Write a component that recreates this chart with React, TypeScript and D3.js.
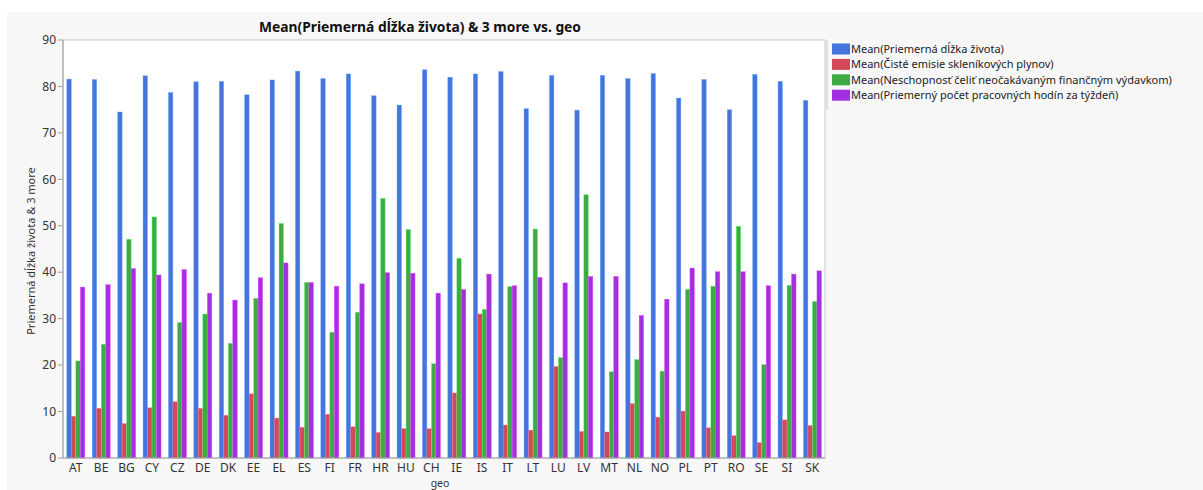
import React from "react";
import * as d3 from "d3";

// categories on the x axis
const geo = ["AT", "BE", "BG", "CY", "CZ", "DE", "DK", "EE", "EL", "ES", "FI", "FR", "HR", "HU", "CH",
  "IE", "IS", "IT", "LT", "LU", "LV", "MT", "NL", "NO", "PL", "PT", "RO", "SE", "SI", "SK"];

const seriesNames = [
  "Mean(Priemerná dĺžka života)",
  "Mean(Čisté emisie skleníkových plynov)",
  "Mean(Neschopnosť čeliť neočakávaným finančným výdavkom)",
  "Mean(Priemerný počet pracovných hodín za týždeň)",
];

const lifeExp = [81.6, 81.5, 74.5, 82.3, 78.7, 81.0, 81.1, 78.2, 81.4, 83.3, 81.7, 82.7, 78.0, 76.0, 83.6,
  82.0, 82.7, 83.2, 75.2, 82.4, 74.9, 82.4, 81.7, 82.8, 77.5, 81.5, 75.0, 82.6, 81.1, 77.0];
const emissions = [9.0, 10.7, 7.4, 10.8, 12.1, 10.7, 9.2, 13.8, 8.6, 6.6, 9.4, 6.7, 5.5, 6.3, 6.3,
  14.0, 31.0, 7.1, 6.0, 19.7, 5.7, 5.6, 11.7, 8.8, 10.1, 6.5, 4.8, 3.3, 8.2, 7.0];
const noExpenses = [20.9, 24.5, 47.1, 51.9, 29.2, 31.0, 24.7, 34.4, 50.5, 37.8, 27.1, 31.4, 55.9, 49.2, 20.3,
  43.0, 32.0, 36.9, 49.3, 21.6, 56.7, 18.6, 21.2, 18.7, 36.3, 37.0, 49.9, 20.1, 37.2, 33.7];
const workHours = [36.8, 37.3, 40.8, 39.4, 40.6, 35.5, 34.0, 38.8, 42.0, 37.8, 37.0, 37.5, 39.9, 39.8, 35.5,
  36.3, 39.6, 37.1, 38.9, 37.7, 39.1, 39.1, 30.7, 34.2, 40.9, 40.1, 40.1, 37.1, 39.6, 40.3];

const yTicks = [0, 10, 20, 30, 40, 50, 60, 70, 80, 90];
const colors = ["#4674DD", "#D4485A", "#3FAA45", "#A230E0"];

const W = 1203, H = 490;
const left = 63, right = 825, top = 40, bottom = 458;
const font = "'Noto Sans', sans-serif";

export default function App() {
  const values = [lifeExp, emissions, noExpenses, workHours];
  const x0 = d3.scaleBand<string>().domain(geo).range([left, right]);
  const bw = x0.bandwidth();
  const x1 = d3.scaleBand<number>().domain([0, 1, 2, 3]).range([bw * 0.15, bw * 0.86]);
  const y = d3.scaleLinear().domain([0, 90]).range([bottom, top]);

  return (
    <svg width={W} height={H} style={{ position: "absolute", left: 0, top: 0 }} fontFamily={font}>
      <rect x={0} y={0} width={W} height={H} fill="#ffffff" />
      <rect x={7} y={12} width={W - 7} height={H - 12} fill="#f7f7f7" />
      <text x={420} y={32} textAnchor="middle" fontSize={13.8} fontWeight="bold" fill="#111">
        Mean(Priemerná dĺžka života) &amp; 3 more vs. geo
      </text>
      <rect x={left} y={top} width={right - left} height={bottom - top} fill="#ffffff" stroke="#c8c8c8" />
      {geo.map((g, i) => (
        <g key={g} transform={`translate(${x0(g)},0)`}>
          {values.map((s, k) => (
            <rect key={k} x={x1(k)} y={y(s[i])} width={x1.bandwidth()} height={bottom - y(s[i])}
              fill={colors[k]} stroke={d3.color(colors[k])!.brighter(1.2).toString()} strokeWidth={0.4} />
          ))}
        </g>
      ))}
      <line x1={left} x2={left} y1={top} y2={bottom} stroke="#a0a0a0" />
      <line x1={left} x2={right} y1={bottom} y2={bottom} stroke="#a0a0a0" />
      {yTicks.map(t => (
        <g key={t}>
          <line x1={left - 5} x2={left} y1={y(t)} y2={y(t)} stroke="#a0a0a0" />
          <text x={left - 7} y={y(t)} dy="0.35em" textAnchor="end" fontSize={12} fill="#333">{t}</text>
        </g>
      ))}
      {geo.map(g => (
        <text key={g} x={x0(g)! + bw / 2} y={472} textAnchor="middle" fontSize={12} fill="#333">{g}</text>
      ))}
      <text x={440} y={487} textAnchor="middle" fontSize={10.5} fill="#333">geo</text>
      <text transform={`translate(35,${(top + bottom) / 2 + 2}) rotate(-90)`} textAnchor="middle" fontSize={11} fill="#333">
        Priemerná dĺžka života &amp; 3 more
      </text>
      <line x1={827} x2={827} y1={40} y2={110} stroke="#c8c8c8" />
      {seriesNames.map((n, k) => (
        <g key={n} transform={`translate(832,${49 + k * 15.4})`}>
          <rect x={0} y={-5.5} width={18} height={11} fill={colors[k]} />
          <text x={19} y={0} dy="0.35em" fontSize={11} fill="#222">{n}</text>
        </g>
      ))}
    </svg>
  );
}
